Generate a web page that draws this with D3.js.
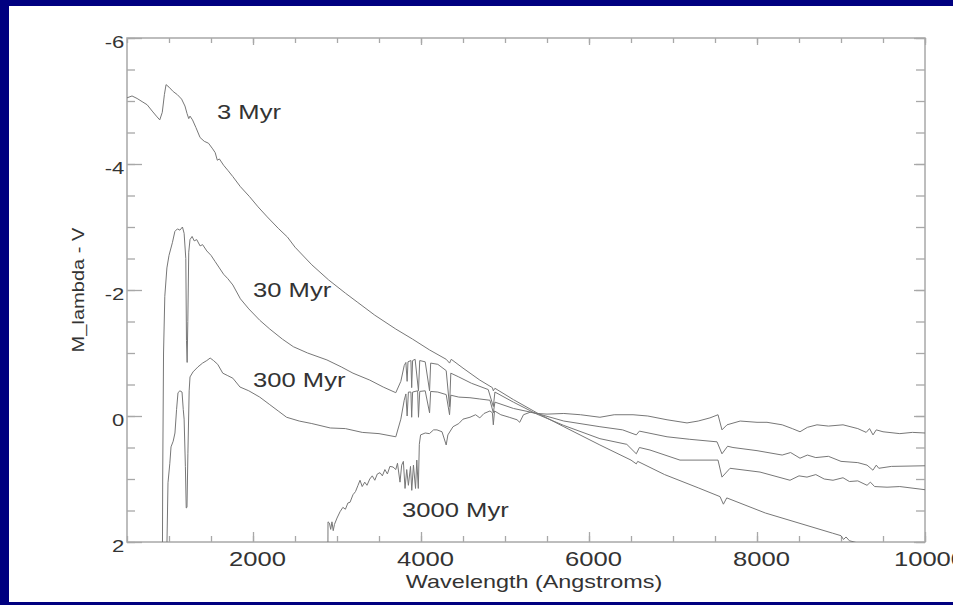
<!DOCTYPE html>
<html>
 <head>
   <meta charset="utf-8">
   <title>Spectra of aging populations</title>
   <script src="https://cdn.jsdelivr.net/npm/d3@7/dist/d3.min.js"></script>
   <style>
     body { margin: 0; background: #000080; }
     text { font-family: "Liberation Sans", Arial, sans-serif; fill: #333; }
   </style>
 </head>
 <body>
  <script>
    // spectra: [wavelength (A), M_lambda - V]
    var spec3 = [[500,-5.05],[560,-5.08],[620,-5.04],[680,-4.99],[740,-4.94],[800,-4.84],[850,-4.76],[890,-4.70],
      [920,-4.82],[945,-5.10],[965,-5.26],[1000,-5.22],[1050,-5.15],[1100,-5.10],[1150,-5.03],[1190,-4.92],
      [1215,-4.80],[1235,-4.72],[1250,-4.76],[1280,-4.70],[1320,-4.58],[1370,-4.42],[1420,-4.36],[1470,-4.33],
      [1520,-4.24],[1550,-4.18],[1575,-4.06],[1600,-4.08],[1650,-3.98],[1700,-3.90],[1760,-3.80],[1850,-3.64],
      [1960,-3.48],[2060,-3.32],[2170,-3.16],[2300,-2.98],[2410,-2.84],[2500,-2.68],[2700,-2.40],[2900,-2.16],
      [3100,-1.95],[3240,-1.81],[3450,-1.60],[3700,-1.38],[3900,-1.22],[4100,-1.05],[4300,-0.90],[4340,-0.84],
      [4360,-0.90],[4500,-0.76],[4700,-0.57],[4850,-0.45],[4861,-0.40],[4880,-0.44],[5100,-0.26],[5380,-0.05],
      [5700,0.17],[6130,0.46],[6500,0.70],[6563,0.76],[6580,0.72],[6900,0.93],[7300,1.14],[7560,1.28],
      [7600,1.40],[7640,1.30],[8100,1.54],[8500,1.70],[8900,1.86],[9000,1.90],[9030,1.96],[9060,1.92],
      [9100,1.98],[9300,2.05],[10000,2.30]];

    var spec30 = [[912,6],[925,1.0],[935,-1.0],[950,-1.9],[975,-2.35],[1000,-2.55],[1040,-2.75],[1070,-2.93],
      [1100,-2.97],[1130,-2.95],[1160,-3.00],[1180,-2.90],[1200,-2.5],[1208,-1.2],[1216,-0.85],[1224,-1.5],
      [1235,-2.6],[1250,-2.80],[1275,-2.85],[1300,-2.78],[1330,-2.80],[1370,-2.70],[1400,-2.72],[1450,-2.62],
      [1500,-2.55],[1550,-2.45],[1600,-2.35],[1650,-2.25],[1700,-2.18],[1760,-2.08],[1850,-1.86],[1950,-1.70],
      [2080,-1.52],[2200,-1.38],[2350,-1.22],[2480,-1.10],[2650,-1.00],[2880,-0.89],[3050,-0.78],[3190,-0.68],
      [3390,-0.57],[3550,-0.46],[3700,-0.37],[3760,-0.55],[3800,-0.80],[3820,-0.85],[3835,-0.55],[3845,-0.86],
      [3880,-0.88],[3889,-0.45],[3900,-0.88],[3930,-0.90],[3970,-0.40],[3985,-0.88],[4050,-0.86],[4102,-0.40],
      [4115,-0.84],[4200,-0.82],[4300,-0.72],[4340,-0.15],[4355,-0.68],[4450,-0.62],[4600,-0.52],[4800,-0.42],
      [4861,-0.15],[4880,-0.38],[5100,-0.22],[5380,-0.03],[5700,0.15],[6130,0.36],[6450,0.45],[6563,0.60],
      [6600,0.50],[6726,0.54],[7083,0.70],[7536,0.70],[7583,0.97],[7679,0.83],[8036,0.89],[8393,1.02],
      [8500,0.95],[8595,0.97],[8700,0.93],[8800,1.00],[8905,1.02],[9024,0.98],[9100,1.04],[9200,1.03],
      [9310,1.10],[9350,1.05],[9400,1.12],[9548,1.13],[9700,1.12],[10000,1.17]];

    var spec300 = [[960,6],[976,2.0],[988,1.06],[1010,0.75],[1024,0.49],[1050,0.40],[1071,0.27],[1090,-0.10],
      [1107,-0.37],[1130,-0.40],[1155,-0.38],[1170,-0.10],[1180,0.05],[1195,0.80],[1205,1.46],[1214,1.45],
      [1225,0.60],[1240,-0.40],[1250,-0.62],[1286,-0.70],[1345,-0.78],[1400,-0.84],[1450,-0.88],[1490,-0.92],
      [1530,-0.88],[1580,-0.82],[1640,-0.68],[1700,-0.64],[1760,-0.60],[1845,-0.46],[1950,-0.40],[2080,-0.30],
      [2200,-0.18],[2300,-0.08],[2400,0.02],[2550,0.08],[2700,0.12],[2920,0.19],[3100,0.20],[3300,0.26],
      [3500,0.28],[3700,0.33],[3760,0.05],[3800,-0.25],[3820,-0.35],[3835,0.0],[3850,-0.38],[3880,-0.38],
      [3889,0.02],[3900,-0.38],[3960,-0.40],[3970,0.02],[3985,-0.39],[4050,-0.40],[4102,-0.05],[4115,-0.39],
      [4200,-0.38],[4300,-0.34],[4340,-0.02],[4355,-0.33],[4450,-0.30],[4583,-0.29],[4700,-0.27],[4821,-0.25],
      [4861,-0.05],[4880,-0.22],[5100,-0.12],[5380,-0.04],[5700,0.08],[6130,0.17],[6400,0.22],[6563,0.30],
      [6600,0.24],[6929,0.33],[7200,0.37],[7524,0.41],[7583,0.60],[7650,0.48],[7714,0.50],[8000,0.55],
      [8300,0.62],[8400,0.58],[8512,0.67],[8600,0.62],[8700,0.66],[8850,0.64],[9000,0.72],[9200,0.74],
      [9310,0.78],[9380,0.86],[9420,0.78],[9450,0.83],[9600,0.80],[10000,0.79]];

    var spec3000 = [[2880,6],[2893,1.68],[2910,1.70],[2925,1.80],[2940,1.68],[2955,1.82],[2970,1.72],[3000,1.62],
      [3036,1.52],[3070,1.45],[3100,1.48],[3130,1.38],[3155,1.37],[3190,1.25],[3220,1.20],[3250,1.10],
      [3274,1.02],[3300,1.12],[3330,1.05],[3357,1.10],[3390,1.00],[3420,0.95],[3450,1.02],[3480,0.92],
      [3512,0.90],[3540,0.95],[3570,0.85],[3600,0.92],[3630,0.80],[3667,0.81],[3700,0.85],[3720,0.75],
      [3750,1.05],[3770,0.78],[3790,0.72],[3810,1.15],[3830,0.85],[3850,1.10],[3875,0.80],[3890,1.18],
      [3910,0.78],[3935,1.15],[3950,0.70],[3968,1.15],[3980,0.45],[3995,0.30],[4050,0.27],[4100,0.28],
      [4150,0.22],[4190,0.22],[4250,0.25],[4300,0.46],[4320,0.30],[4381,0.17],[4450,0.12],[4500,0.05],
      [4583,0.02],[4650,-0.02],[4700,0.03],[4750,-0.04],[4821,-0.08],[4850,-0.05],[4861,0.14],[4875,-0.08],
      [4950,-0.02],[5050,0.02],[5143,0.06],[5175,0.10],[5220,-0.02],[5300,-0.06],[5380,-0.04],[5500,-0.03],
      [5700,-0.04],[5900,-0.02],[6130,0.02],[6300,-0.02],[6524,-0.02],[6700,0.0],[6929,0.06],[7167,0.11],
      [7300,0.08],[7440,0.03],[7536,-0.02],[7583,0.22],[7643,0.14],[7800,0.08],[8000,0.10],[8119,0.10],
      [8300,0.14],[8420,0.20],[8512,0.25],[8600,0.18],[8714,0.14],[8850,0.16],[9024,0.14],[9200,0.20],
      [9300,0.26],[9340,0.20],[9381,0.30],[9420,0.22],[9500,0.25],[9700,0.28],[9850,0.26],[10000,0.27]];

    var spectra = [spec3, spec30, spec300, spec3000];
    var ageLabels = ["3 Myr", "30 Myr", "300 Myr", "3000 Myr"];
    var labelAt = [[1571,-4.71],[2000,-1.89],[2000,-0.46],[3774,1.60]];   // left end of label text, baseline

    var xMajor = [2000, 4000, 6000, 8000, 10000];
    var yMajor = [-6, -4, -2, 0, 2];

    var width = 953, height = 605;
    var plotL = 127, plotR = 925, plotT = 38, plotB = 542;
    var wide = 1.28;   // the original lettering is very wide

    var svg = d3.select("body").append("svg")
                .attr("width", width)
                .attr("height", height);

    svg.append("rect").attr("width", width).attr("height", height).attr("fill", "#000080");
    svg.append("rect").attr("x", 9).attr("y", 6).attr("width", width - 9).attr("height", 596).attr("fill", "#fff");

    var x = d3.scaleLinear().domain([500, 10000]).range([plotL, plotR]);
    var y = d3.scaleLinear().domain([-6, 2]).range([plotT, plotB]);

    svg.append("clipPath").attr("id", "plotclip")
       .append("rect").attr("x", plotL).attr("y", plotT)
       .attr("width", plotR - plotL).attr("height", plotB - plotT);

    // ticks point inwards on all four sides
    function ticks(axis, tx, ty, values, len, labels) {
      var g = svg.append("g").attr("transform", "translate(" + tx + "," + ty + ")")
                 .call(axis.tickValues(values).tickSize(-len).tickSizeOuter(0)
                           .tickPadding(labels ? 10 : 0)
                           .tickFormat(labels ? function(d) { return String(d); } : ""));
      g.select(".domain").remove();
      g.selectAll("line").attr("stroke", "#a8a8a8").attr("stroke-width", 1.3);
      return g;
    }
    var xMinor = d3.range(500, 10001, 500), yMinor = d3.range(-6, 2.01, 0.5);

    ticks(d3.axisBottom(x), 0, plotB, xMinor, 6, false);
    ticks(d3.axisTop(x), 0, plotT, xMinor, 5, false);
    ticks(d3.axisLeft(y), plotL, 0, yMinor, 8, false);
    ticks(d3.axisRight(y), plotR, 0, yMinor, 9, false);
    var gx = ticks(d3.axisBottom(x), 0, plotB, xMajor, 10, true);
    ticks(d3.axisTop(x), 0, plotT, xMajor, 7, false);
    var gy = ticks(d3.axisLeft(y), plotL, 0, yMajor, 15, true);
    ticks(d3.axisRight(y), plotR, 0, yMajor, 11, false);

    gx.selectAll("text").attr("font-size", 20).attr("fill", "#333")
      .attr("font-family", "Liberation Sans, Arial, sans-serif")
      .attr("transform", "translate(4,0) scale(" + wide + ",1)");
    gy.selectAll("text").attr("font-size", 17).attr("fill", "#333")
      .attr("font-family", "Liberation Sans, Arial, sans-serif")
      .attr("x", -2).attr("dy", "0.55em")
      .attr("transform", "scale(1.3,1)");

    svg.append("rect").attr("x", plotL).attr("y", plotT)
       .attr("width", plotR - plotL).attr("height", plotB - plotT)
       .attr("fill", "none").attr("stroke", "#a8a8a8").attr("stroke-width", 1.5);

    var line = d3.line()
                 .x(function(d) { return x(d[0]); })
                 .y(function(d) { return y(d[1]); });

    svg.append("g").attr("clip-path", "url(#plotclip)")
       .selectAll("path").data(spectra).enter().append("path")
       .attr("d", line)
       .attr("fill", "none")
       .attr("stroke", "#777")
       .attr("stroke-width", 1)
       .attr("stroke-linejoin", "round");

    svg.selectAll(".age").data(ageLabels).enter().append("text")
       .attr("class", "age")
       .attr("transform", function(d, i) {
          return "translate(" + x(labelAt[i][0]) + "," + y(labelAt[i][1]) + ") scale(" + wide + ",1)";
       })
       .attr("font-size", 20)
       .text(function(d) { return d; });

    svg.append("text")
       .attr("transform", "translate(" + ((plotL + plotR) / 2 + 8) + ",588) scale(1.3,1)")
       .attr("text-anchor", "middle")
       .attr("font-size", 18)
       .text("Wavelength (Angstroms)");

    svg.append("text")
       .attr("transform", "translate(84," + ((plotT + plotB) / 2) + ") rotate(-90) scale(1.18,1)")
       .attr("text-anchor", "middle")
       .attr("font-size", 17)
       .text("M_lambda - V");
  </script>
 </body>
</html>
